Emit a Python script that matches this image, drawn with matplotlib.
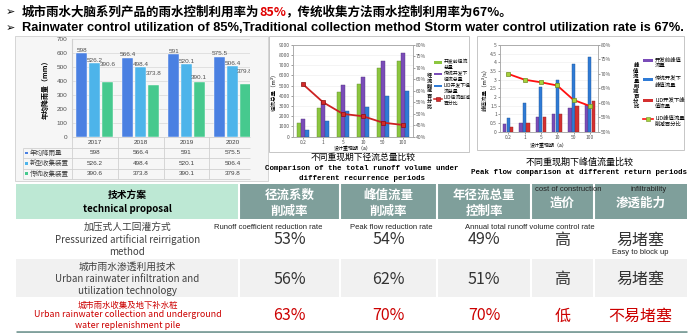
import matplotlib
matplotlib.use("Agg")
import matplotlib.pyplot as plt
from matplotlib.patches import Rectangle
import numpy as np

W, H = 700, 333
CJK = ["Noto Sans CJK SC", "DejaVu Sans"]
LAT = ["Liberation Sans", "DejaVu Sans"]
MONO = ["Liberation Mono", "DejaVu Sans Mono"]
plt.rcParams["font.family"] = CJK
plt.rcParams["axes.unicode_minus"] = False

# 年均降雨量与收集量
years = ["2017", "2018", "2019", "2020"]
rain_names = ["年均降雨量", "新型收集装置", "传统收集装置"]
rain_avg = [598, 566.4, 591, 575.5]
rain_new = [526.2, 498.4, 520.1, 506.4]
rain_old = [390.6, 373.8, 390.1, 379.8]

# 不同重现期下径流总量
periods = ["0.2", "1", "5", "10", "50", "100"]
runoff_names = ["开发前径流\n总量", "传统开发下\n径流总量", "LID开发下径\n流总量", "LID径流削减\n百分比"]
runoff_pre = [1310, 2780, 4400, 5125, 6690, 7440]
runoff_trad = [1730, 3360, 5060, 5810, 7440, 8220]
runoff_lid = [655, 1540, 2510, 2935, 3980, 4470]
runoff_cut = [62.8, 55.0, 49.9, 48.9, 46.1, 45.1]

# 不同重现期下峰值流量
peak_names = ["开发前峰值\n流量", "传统开发下\n峰值流量", "LID开发下峰\n值流量", "LID峰值流量\n削减百分比"]
peak_pre = [0.46, 0.50, 0.84, 1.01, 1.37, 1.55]
peak_trad = [0.80, 1.64, 2.56, 2.96, 3.89, 4.29]
peak_lid = [0.27, 0.52, 0.84, 1.01, 1.51, 1.79]
peak_cut = [70.0, 68.0, 67.1, 66.0, 61.0, 58.9]

# 技术方案对比表
scheme_cn = ["加压式人工回灌方式", "城市雨水渗透利用技术", "城市雨水收集及地下补水桩"]
scheme_en = ["Pressurized artificial reirrigation\nmethod",
             "Urban rainwater infiltration and\nutilization technology",
             "Urban rainwater collection and underground\nwater replenishment pile"]
head_cn = ["径流系数\n削减率", "峰值流量\n削减率", "年径流总量\n控制率", "造价", "渗透能力"]
head_en = ["", "", "", "cost of construction", "infiltrability"]
sub_en = ["Runoff coefficient reduction rate", "Peak flow reduction rate",
          "Annual total runoff volume control rate", "", "Easy to block up"]
coef_cut = [53, 56, 63]
peak_rate = [54, 62, 70]
annual_ctrl = [49, 51, 70]
cost = ["高", "高", "低"]
infil = ["易堵塞", "易堵塞", "不易堵塞"]

fig = plt.figure(figsize=(7, 3.33), dpi=100)
bg = fig.add_axes([0, 0, 1, 1])
bg.set_xlim(0, W)
bg.set_ylim(H, 0)
bg.axis("off")
rend = fig.canvas.get_renderer()


def px_axes(x0, y0, x1, y1):
    return fig.add_axes([x0 / W, 1 - y1 / H, (x1 - x0) / W, (y1 - y0) / H])


def box(x0, y0, x1, y1, fc, ec="none", lw=0, z=0):
    bg.add_patch(Rectangle((x0, y0), x1 - x0, y1 - y0, facecolor=fc,
                           edgecolor=ec, linewidth=lw, zorder=z))


def fit_width(t, target):
    # 按目标像素宽度缩放字号
    w = t.get_window_extent(renderer=rend).width
    t.set_fontsize(t.get_fontsize() * target / w)


# ---- 标题
bg.text(6, 12, "➢", family="DejaVu Sans", fontsize=8, va="center")
bg.text(6, 28, "➢", family="DejaVu Sans", fontsize=8, va="center")
xx = 22
for s, c in [("城市雨水大脑系列产品的雨水控制利用率为", "black"), ("85%", "#e00000"),
             ("，传统收集方法雨水控制利用率为67%。", "black")]:
    t = bg.text(xx, 12, s, color=c, fontsize=9, fontweight="bold", va="center")
    xx += t.get_window_extent(renderer=rend).width
t2 = bg.text(22, 28, "Rainwater control utilization of 85%,Traditional collection method "
             "Storm water control utilization rate is 67%.",
             family=LAT, fontweight="bold", fontsize=9, va="center")
fit_width(t2, 666)

# ---- 面板底色
box(15, 36, 268, 181, "#f6f6f6", "#cfcfcf", 0.6)
box(269, 36, 469, 152, "white", "#bdbdbd", 0.6)
box(477, 36, 684, 150, "white", "#bdbdbd", 0.6)

# ---- 图1：年均降雨量
gw = 45.9
ax1 = px_axes(71.7, 39.3, 250, 136.7)
ax1.set_facecolor("none")
ax1.set_xlim(-0.5, -0.5 + (250 - 71.7) / gw)
ax1.set_ylim(0, 700)
ax1.set_yticks(range(0, 701, 100))
ax1.set_xticks([])
ax1.grid(axis="y", color="#dcdcdc", lw=0.6)
ax1.set_axisbelow(True)
for sp in ax1.spines.values():
    sp.set_visible(False)
ax1.spines["left"].set_visible(True)
ax1.spines["left"].set_color("#d0d0d0")
ax1.tick_params(axis="y", length=0, labelsize=4.6, labelcolor="#505050", pad=3)
for lab in ax1.get_yticklabels():
    lab.set_family(LAT)
ax1.set_ylabel("年均降雨量（mm）", fontsize=5, fontweight="bold", labelpad=6)

rain_cols = ["#4a80e2", "#4db4ea", "#46c98e"]
lifts_px = [[0.5] * 4, [0.5] * 4, [15, 9, 2, 10]]
px_per_unit = (136.7 - 39.3) / 700
xs = np.arange(len(years))
for k, vals in enumerate([rain_avg, rain_new, rain_old]):
    pos = xs + (k - 1) * 0.276
    ax1.bar(pos, vals, 0.24, color=rain_cols[k], edgecolor="#ffffff", lw=0.3, zorder=3)
    for p, v, lf in zip(pos, vals, lifts_px[k]):
        ax1.text(p, v + lf / px_per_unit, f"{v:g}", ha="center", va="bottom",
                 fontsize=4.6, color="#505050", family=LAT, clip_on=True)

# 图1下方数据表
tl, tr = 71.7, 250
line_c = "#d0d0d0"
bg.hlines([136.7], tl, tr, color=line_c, lw=0.6, zorder=2)
bg.hlines([147.5, 158, 168.5, 178.7], 22.7, tr, color=line_c, lw=0.6, zorder=2)
bg.vlines([tl + i * gw for i in range(4)], 136.7, 178.7, color=line_c, lw=0.6, zorder=2)
bg.vlines([22.7], 147.5, 178.7, color=line_c, lw=0.6, zorder=2)
for i, y in enumerate(years):
    bg.text(tl + (i + 0.5) * gw, 142.3, y, ha="center", va="center", fontsize=4.6,
            color="#404040", family=LAT, clip_on=True)
row_y = [153, 163.3, 173.7]
for r, vals in enumerate([rain_avg, rain_new, rain_old]):
    box(25.3, row_y[r] - 1.4, 28.1, row_y[r] + 1.4, rain_cols[r], z=3)
    bg.text(29.5, row_y[r], rain_names[r], ha="left", va="center", fontsize=4.7,
            color="#404040")
    for i, v in enumerate(vals):
        if tl + (i + 0.5) * gw < tr:
            bg.text(tl + (i + 0.5) * gw, row_y[r], f"{v:g}", ha="center", va="center",
                    fontsize=4.6, color="#404040", family=LAT)


def small_chart(rect, series, cols, ylim, yticks, ylab, line_vals, rlim, rticks,
                line_c, mfc, mec, xlab_y):
    ax = px_axes(*rect)
    n = len(periods)
    x = np.arange(n)
    for k, vals in enumerate(series):
        ax.bar(x + (k - 1) * 0.22, vals, 0.2, color=cols[k],
               edgecolor=[c * 0.7 for c in matplotlib.colors.to_rgb(cols[k])],
               lw=0.3, zorder=3)
    ax.set_xlim(-0.5, n - 0.5)
    ax.set_ylim(*ylim)
    ax.set_yticks(yticks)
    ax.set_yticklabels([f"{v:g}" for v in yticks])
    ax.set_xticks(x)
    ax.set_xticklabels(periods)
    ax.grid(axis="y", color="#ececec", lw=0.4)
    ax.set_axisbelow(True)
    for sp in ax.spines.values():
        sp.set_color("#a8a8a8")
        sp.set_linewidth(0.5)
    ax.tick_params(labelsize=3.6, length=1.2, width=0.4, pad=1, colors="#555555")
    ax.set_ylabel(ylab, fontsize=4, labelpad=2)
    axr = ax.twinx()
    axr.plot(x, line_vals, color=line_c, lw=1.3, marker="s", ms=3, mfc=mfc, mec=mec,
             mew=0.5, zorder=5)
    axr.set_ylim(*rlim)
    axr.set_yticks(rticks)
    axr.set_yticklabels([f"{v}%" for v in rticks])
    axr.tick_params(labelsize=3.6, length=1.2, width=0.4, pad=1, colors="#555555")
    for sp in axr.spines.values():
        sp.set_color("#a8a8a8")
        sp.set_linewidth(0.5)
    x0, y0, x1, y1 = rect
    bg.text((x0 + x1) / 2, xlab_y, "设计重现期（a）", ha="center", va="center",
            fontsize=3.6)
    return ax


# ---- 图2：径流总量
small_chart((293, 44.7, 413, 136.7), [runoff_pre, runoff_trad, runoff_lid],
            ["#8cc63f", "#7a4cb8", "#2f7bd6"], (0, 9000), range(0, 9001, 1000),
            "径流总量（m³）", runoff_cut, (40, 80), list(range(40, 81, 5)),
            "#cc2222", "#d42a2a", "#8a1010", 148.2)
bg.text(429.5, 91, "\n".join("径流削减百分比"), ha="center", va="center", fontsize=3.7,
        linespacing=1.0, fontweight="bold")
leg_y = [62.7, 74, 86, 98.7]
leg_c = ["#8cc63f", "#7a4cb8", "#2f7bd6"]
for i, (y, name) in enumerate(zip(leg_y, runoff_names)):
    if i < 3:
        box(434, y - 1.3, 442, y + 1.3, leg_c[i], z=3)
    else:
        bg.plot([434, 442], [y, y], color="#cc2222", lw=1.1)
        bg.plot([438], [y], marker="s", ms=2.4, color="#d42a2a", mec="#8a1010", mew=0.4)
    bg.text(443.5, y + 2, name, ha="left", va="center", fontsize=3.5, linespacing=1.2)

bg.text(363, 157, "不同重现期下径流总量比较", ha="center", va="center", fontsize=6.3)
bg.text(362, 168.7, "Comparison of the total runoff volume under", ha="center",
        va="center", fontsize=5.4, family=MONO, fontweight="bold")
bg.text(362, 179, "different recurrence periods", ha="center", va="center",
        fontsize=5.4, family=MONO, fontweight="bold")

# ---- 图3：峰值流量
small_chart((500, 45, 598, 131.7), [peak_pre, peak_trad, peak_lid],
            ["#7a4cb8", "#2f7bd6", "#d43030"], (0, 5), np.arange(0, 5.01, 0.5),
            "峰值流量（m³/s）", peak_cut, (50, 80), list(range(50, 81, 5)),
            "#ff1010", "#a6d13a", "#6f8f20", 145.5)
bg.text(636, 86, "\n".join("峰值流量削减百分比"), ha="center", va="center", fontsize=3.9,
        linespacing=1.0, fontweight="bold")
leg_y = [60, 79.3, 100.7, 119]
leg_c = ["#7a4cb8", "#2f7bd6", "#d43030"]
for i, (y, name) in enumerate(zip(leg_y, peak_names)):
    if i < 3:
        box(643, y - 1.5, 653, y + 1.5, leg_c[i], z=3)
    else:
        bg.plot([643, 653], [y, y], color="#ff1010", lw=1.2)
        bg.plot([648], [y], marker="s", ms=2.8, color="#a6d13a", mec="#6f8f20", mew=0.4)
    bg.text(655, y + 2.5, name, ha="left", va="center", fontsize=3.9, linespacing=1.3)

bg.text(580, 162, "不同重现期下峰值流量比较", ha="center", va="center", fontsize=6.5)
bg.text(579, 173, "Peak flow comparison at different return periods", ha="center",
        va="center", fontsize=5.4, family=MONO, fontweight="bold")

# ---- 技术方案对比表
cols = [16, 239, 340, 437, 531, 594, 687]
rows = [184, 219, 259, 297, 331]
box(16, rows[0], cols[1], rows[1], "#bde8d4")
for j in range(1, 6):
    box(cols[j], rows[0], cols[j + 1], rows[1], "#7f9f9b")
for i, fc in enumerate(["white", "#f1f1f1", "white"]):
    box(16, rows[i + 1], 687, rows[i + 2], fc)
bg.vlines(cols[1:-1], rows[0], rows[-1], color="white", lw=1.5, zorder=2)
bg.hlines([rows[-1] + 0.8], 16, 687, color="#80a09c", lw=2, zorder=2)

bg.text(127.5, 195, "技术方案", ha="center", va="center", fontsize=7, fontweight="bold")
bg.text(127.5, 209, "technical proposal", ha="center", va="center", fontsize=7,
        fontweight="bold")
cx = [(cols[j] + cols[j + 1]) / 2 for j in range(1, 6)]
for j in range(5):
    if head_en[j]:
        bg.text(cx[j] + 6 if j == 3 else cx[j] + 8, 189.3, head_en[j], ha="center",
                va="center", fontsize=5.5, family=LAT, color="#222222")
        bg.text(cx[j], 203.5, head_cn[j], ha="center", va="center", fontsize=9,
                fontweight="bold", color="white")
    else:
        bg.text(cx[j], 203.3, head_cn[j], ha="center", va="center", fontsize=9,
                fontweight="bold", color="white", linespacing=1.25)

name_y = [(226.7, 246), (267.3, 285.2), (305, 320.3)]
val_y = [240, 279.3, 316]
for i in range(3):
    red = i == 2
    c = "#cc0000" if red else "#404040"
    bg.text(127.5, name_y[i][0], scheme_cn[i], ha="center", va="center",
            fontsize=6 if red else 7, color=c)
    bg.text(127.5, name_y[i][1], scheme_en[i], ha="center", va="center",
            fontsize=6.4 if red else 7, color=c, linespacing=1.25)
    row_vals = [f"{coef_cut[i]}%", f"{peak_rate[i]}%", f"{annual_ctrl[i]}%", cost[i], infil[i]]
    for j, s in enumerate(row_vals):
        bg.text(cx[j], val_y[i], s, ha="center", va="center", fontsize=11.5,
                color="#cc0000" if red else "#333333")

sub_x = [268, 391, 530, None, 640.5]
for j, s in enumerate(sub_en):
    if s:
        y = 252.7 if j == 4 else 227.5
        bg.text(sub_x[j], y, s, ha="center", va="center", fontsize=5.5, family=LAT,
                color="#222222", zorder=4)

fig.savefig("out.png", dpi=100)
